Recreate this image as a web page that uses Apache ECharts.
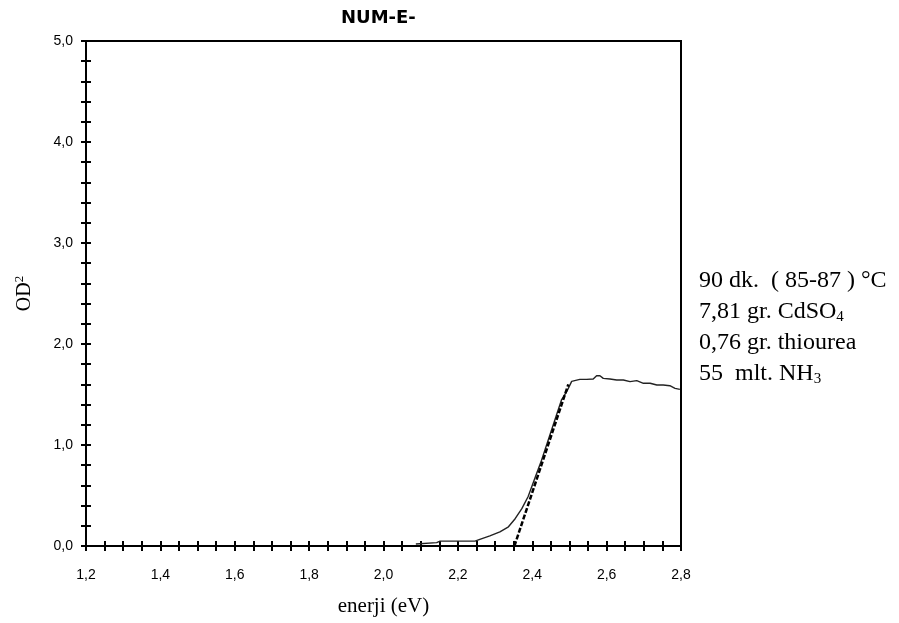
<!DOCTYPE html>
<html>
  <head>
    <title>NUM-E-</title>
    <meta http-equiv="content-type" content="text/html; charset=UTF-8">
    <script src="https://cdn.jsdelivr.net/npm/echarts@6.0.0/dist/echarts.min.js"></script>
    <style>
      html, body { margin: 0; padding: 0; background: #fff; }
      #main { width: 899px; height: 623px; }
    </style>
  </head>
  <body>
    <div id="main"></div>
    <script type="text/javascript">
      // olculen egri (enerji eV, OD^2)
      var curveX = [2.087, 2.143, 2.152, 2.246, 2.259, 2.286, 2.313, 2.336, 2.354, 2.372, 2.389, 2.407,
                    2.425, 2.443, 2.461, 2.479, 2.493, 2.506, 2.528, 2.546, 2.564, 2.573, 2.582, 2.591,
                    2.609, 2.627, 2.645, 2.663, 2.681, 2.699, 2.717, 2.735, 2.752, 2.770, 2.784, 2.797];
      var curveY = [0.02, 0.033, 0.048, 0.048, 0.066, 0.10, 0.14, 0.19, 0.27, 0.37, 0.49, 0.67,
                    0.85, 1.05, 1.25, 1.45, 1.53, 1.63, 1.65, 1.65, 1.653, 1.686, 1.686, 1.66,
                    1.653, 1.644, 1.644, 1.627, 1.637, 1.611, 1.611, 1.594, 1.594, 1.587, 1.561, 1.551];
      // teget dogru (kesikli)
      var tangentX = [2.352, 2.497];
      var tangentY = [0.0, 1.60];
      // eksenler
      var xMin = 1.2, xMax = 2.8, xStep = 0.2;
      var yMin = 0, yMax = 5, yStep = 1;
      // sag taraftaki notlar
      var notes = ['90 dk.  ( 85-87 ) °C', '7,81 gr. CdSO{sub|4}', '0,76 gr. thiourea', '55  mlt. NH{sub|3}'];

      function pairs(xs, ys) {
        var out = [];
        for (var i = 0; i < xs.length; i++) out.push([xs[i], ys[i]]);
        return out;
      }
      function comma(v) { return v.toFixed(1).replace('.', ','); }

      var lbl = { color: '#000', fontFamily: 'Liberation Sans', fontSize: 14 };
      var serif = 'Liberation Serif';

      function xAx(inside) {
        return {
          type: 'value', position: 'bottom', min: xMin, max: xMax, interval: xStep,
          axisLine: { show: !inside, lineStyle: { color: '#000', width: 2 } },
          axisTick: { show: true, inside: inside, length: 5, lineStyle: { color: '#000', width: 2 } },
          minorTick: { show: true, splitNumber: 4, length: 5, lineStyle: { color: '#000', width: 2 } },
          splitLine: { show: false },
          axisLabel: inside ? { show: false } : Object.assign({ margin: 22, formatter: comma }, lbl),
          name: inside ? '' : 'enerji (eV)',
          nameLocation: 'middle', nameGap: 50,
          nameTextStyle: { fontFamily: serif, fontSize: 21, color: '#000' }
        };
      }
      function yAx(inside) {
        return {
          type: 'value', position: 'left', min: yMin, max: yMax, interval: yStep,
          axisLine: { show: !inside, lineStyle: { color: '#000', width: 2 } },
          axisTick: { show: true, inside: inside, length: 5, lineStyle: { color: '#000', width: 2 } },
          minorTick: { show: true, splitNumber: 5, length: 5, lineStyle: { color: '#000', width: 2 } },
          splitLine: { show: false },
          axisLabel: inside ? { show: false } : Object.assign({ margin: 13, formatter: comma }, lbl),
          name: inside ? '' : 'OD{sup|2}',
          nameLocation: 'middle', nameGap: 50, nameRotate: 90,
          nameTextStyle: {
            fontFamily: serif, fontSize: 20, color: '#000',
            rich: { sup: { fontFamily: serif, fontSize: 13, color: '#000', padding: [0, 0, 10, 0] } }
          }
        };
      }

      var chart = echarts.init(document.getElementById('main'));
      var graphics = [];
      for (var i = 0; i < notes.length; i++) {
        graphics.push({
          type: 'text', left: 699, top: 269 + i * 31,
          style: {
            text: notes[i], fontFamily: serif, fontSize: 24, fill: '#000',
            rich: { sub: { fontFamily: serif, fontSize: 15, fill: '#000', padding: [10, 0, 0, 0] } }
          }
        });
      }

      chart.setOption({
        animation: false,
        backgroundColor: '#fff',
        title: {
          text: 'NUM-E-', left: 336, top: 4,
          textStyle: { fontFamily: 'DejaVu Sans', fontWeight: 'bold', fontSize: 18, color: '#000' }
        },
        grid: {
          left: 86, right: 218, top: 41, bottom: 77,
          show: true, borderColor: '#000', borderWidth: 2, backgroundColor: 'transparent'
        },
        xAxis: [xAx(false), xAx(true)],
        yAxis: [yAx(false), yAx(true)],
        graphic: graphics,
        series: [
          {
            name: 'egri', type: 'line', data: pairs(curveX, curveY),
            symbol: 'none', lineStyle: { color: '#222', width: 1.4 }
          },
          {
            name: 'teget', type: 'line', data: pairs(tangentX, tangentY),
            symbol: 'none', lineStyle: { color: '#000', width: 2.5, type: [5, 2] }
          }
        ]
      });
    </script>
  </body>
</html>
